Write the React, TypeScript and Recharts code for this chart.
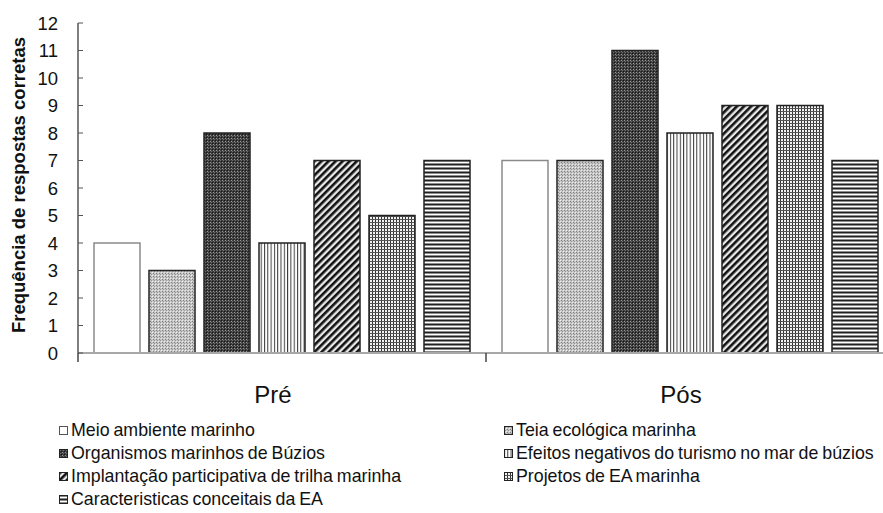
import React from "react"
import { BarChart, Bar, XAxis, YAxis, Legend } from "recharts"

const categories = ["Pré", "Pós"]

const seriesNames = [
  "Meio ambiente marinho",
  "Teia ecológica marinha",
  "Organismos marinhos de Búzios",
  "Efeitos negativos do turismo no mar de búzios",
  "Implantação participativa de trilha marinha",
  "Projetos de EA marinha",
  "Caracteristicas conceitais da EA",
]

const meioAmbiente = [4, 7]
const teiaEcologica = [3, 7]
const organismos = [8, 11]
const efeitosNegativos = [4, 8]
const implantacao = [7, 9]
const projetos = [5, 9]
const caracteristicas = [7, 7]

const yTicks = [0, 1, 2, 3, 4, 5, 6, 7, 8, 9, 10, 11, 12]

const seriesValues = [
  meioAmbiente,
  teiaEcologica,
  organismos,
  efeitosNegativos,
  implantacao,
  projetos,
  caracteristicas,
]

const keys = ["s0", "s1", "s2", "s3", "s4", "s5", "s6"]

const data = categories.map((cat, i) => {
  const row: Record<string, string | number> = { name: cat }
  keys.forEach((k, j) => {
    row[k] = seriesValues[j][i]
  })
  return row
})

const fills = [
  "#ffffff",
  "url(#pTeia)",
  "url(#pOrg)",
  "url(#pVert)",
  "url(#pDiag)",
  "url(#pGrid)",
  "url(#pHoriz)",
]
const strokes = ["#8a8a8a", "#222", "#222", "#222", "#222", "#222", "#222"]

const FONT = "'Liberation Sans', Arial, sans-serif"

function Patterns() {
  return (
    <defs>
      <pattern id="pTeia" width="3" height="3" patternUnits="userSpaceOnUse">
        <rect width="3" height="3" fill="#c6c6c6" />
        <rect x="0" y="0" width="1" height="1" fill="#7e7e7e" />
        <rect x="1" y="1" width="1" height="1" fill="#969696" />
        <rect x="2" y="2" width="1" height="1" fill="#ececec" />
      </pattern>
      <pattern id="pOrg" width="3" height="3" patternUnits="userSpaceOnUse">
        <rect width="3" height="3" fill="#3c3c3c" />
        <rect x="0" y="0" width="1" height="1" fill="#999" />
        <rect x="1" y="1" width="1" height="1" fill="#6c6c6c" />
        <rect x="2" y="2" width="1" height="1" fill="#161616" />
      </pattern>
      <pattern id="pVert" width="3.3" height="4" patternUnits="userSpaceOnUse">
        <rect width="3.3" height="4" fill="#ffffff" />
        <rect x="0" width="1" height="4" fill="#3a3a3a" />
      </pattern>
      <pattern id="pDiag" width="5" height="5" patternUnits="userSpaceOnUse" patternTransform="rotate(45)">
        <rect width="5" height="5" fill="#e8e8e8" />
        <rect x="0" width="2.6" height="5" fill="#111" />
      </pattern>
      <pattern id="pGrid" width="3" height="3" patternUnits="userSpaceOnUse">
        <rect width="3" height="3" fill="#f2f2f2" />
        <rect x="0" width="1" height="3" fill="#333" />
        <rect y="0" width="3" height="1" fill="#555" />
      </pattern>
      <pattern id="pHoriz" width="4" height="4" patternUnits="userSpaceOnUse">
        <rect width="4" height="4" fill="#8c8c8c" />
        <rect y="0" width="4" height="1" fill="#222" />
        <rect y="2" width="4" height="1" fill="#ffffff" />
      </pattern>
    </defs>
  )
}

function CategoryTick(props: any) {
  const { x, y, payload } = props
  const half = payload && payload.offset ? payload.offset : 204
  return (
    <g>
      <line x1={x - half} x2={x - half} y1={y - 8} y2={y + 1} stroke="#444" strokeWidth={1.5} />
      <text x={x - 9} y={y + 42} textAnchor="middle" fontSize={24} fontFamily={FONT} fill="#111">
        {payload.value}
      </text>
    </g>
  )
}

function LegendBox() {
  return (
    <div
      style={{
        display: "grid",
        gridTemplateColumns: "445px 1fr",
        gridAutoRows: "23px",
        paddingLeft: 59,
        paddingTop: 4,
        fontFamily: FONT,
        fontSize: 17.8,
        wordSpacing: -1,
        color: "#111",
        textAlign: "left",
      }}
    >
      {seriesNames.map((name, i) => (
        <div key={name} style={{ display: "flex", alignItems: "center", whiteSpace: "nowrap" }}>
          <svg width={10} height={10} style={{ marginRight: 2 }}>
            <Patterns />
            <rect x={0.5} y={0.5} width={8} height={8} fill={fills[i]} stroke={i === 0 ? "#555" : "#222"} strokeWidth={1} />
          </svg>
          <span>{name}</span>
        </div>
      ))}
    </div>
  )
}

export default function App() {
  return (
    <div style={{ position: "absolute", left: 0, top: 0, width: 883, height: 513, background: "#fff" }}>
      <BarChart
        width={883}
        height={513}
        data={data}
        margin={{ top: 23, right: -11, bottom: 0, left: 0 }}
        barGap={9}
        barCategoryGap={16}
      >
        <Patterns />
        <XAxis
          dataKey="name"
          height={62}
          tickLine={false}
          axisLine={{ stroke: "#a8a8a8", strokeWidth: 2 }}
          tick={<CategoryTick />}
          interval={0}
        />
        <YAxis
          width={78}
          domain={[0, 12]}
          ticks={yTicks}
          interval={0}
          tickSize={-5}
          tickMargin={25}
          axisLine={{ stroke: "#555", strokeWidth: 1.5 }}
          tickLine={{ stroke: "#555", strokeWidth: 1 }}
          tick={{ fontSize: 18.5, fontFamily: FONT, fill: "#111" }}
          label={{
            value: "Frequência de respostas corretas",
            angle: -90,
            position: "insideLeft",
            dx: 13,
            dy: -3,
            style: { textAnchor: "middle", fontSize: 18.5, fontWeight: "bold", fontFamily: FONT, fill: "#111" },
          }}
        />
        {keys.map((k, i) => (
          <Bar
            key={k}
            dataKey={k}
            name={seriesNames[i]}
            fill={fills[i]}
            stroke={strokes[i]}
            strokeWidth={1.5}
            isAnimationActive={false}
          />
        ))}
        <Legend verticalAlign="bottom" height={98} content={<LegendBox />} wrapperStyle={{ left: 0, width: 883 }} />
      </BarChart>
    </div>
  )
}
